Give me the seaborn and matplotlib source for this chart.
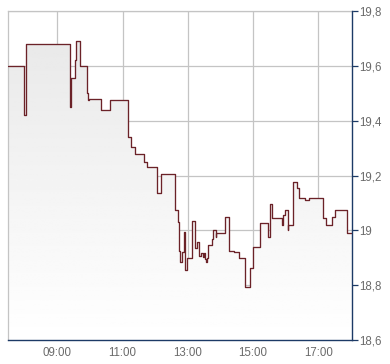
import matplotlib
matplotlib.use("Agg")
import matplotlib.pyplot as plt
import seaborn as sns
import numpy as np
import pandas as pd

times = ["07:29", "07:58", "08:03", "09:24", "09:25", "09:33", "09:35", "09:41", "09:54", "09:55",
         "09:56", "09:58", "10:21", "10:36", "11:09", "11:16", "11:22", "11:40", "11:44", "12:03",
         "12:10", "12:37", "12:41", "12:43", "12:46", "12:50", "12:52", "12:54", "12:59", "13:08",
         "13:14", "13:17", "13:21", "13:25", "13:27", "13:30", "13:31", "13:33", "13:35", "13:37",
         "13:44", "13:47", "13:51", "13:52", "14:08", "14:16", "14:25", "14:34", "14:45", "14:46",
         "14:54", "15:00", "15:12", "15:27", "15:31", "15:34", "15:53", "15:55", "15:58", "16:04",
         "16:05", "16:13", "16:21", "16:25", "16:35", "16:43", "17:08", "17:15", "17:25", "17:30",
         "17:53"]
prices = [19.60, 19.42, 19.68, 19.45, 19.555, 19.62, 19.69, 19.60, 19.53, 19.50,
          19.475, 19.48, 19.44, 19.475, 19.34, 19.305, 19.277, 19.248, 19.23, 19.135,
          19.205, 19.075, 19.03, 18.925, 18.886, 18.922, 18.995, 18.855, 18.898, 19.033,
          18.936, 18.959, 18.906, 18.916, 18.904, 18.916, 18.897, 18.886, 18.898, 18.946,
          18.967, 19.00, 18.975, 18.99, 19.048, 18.925, 18.92, 18.90, 18.837, 18.792,
          18.864, 18.939, 19.028, 18.976, 19.095, 19.044, 19.02, 19.056, 19.074, 19.00,
          19.02, 19.177, 19.153, 19.117, 19.111, 19.117, 19.044, 19.02, 19.05, 19.074,
          18.992]
end_time = "18:02"
x_ticks = ["09:00", "11:00", "13:00", "15:00", "17:00"]
y_ticks = [18.6, 18.8, 19.0, 19.2, 19.4, 19.6, 19.8]

def to_h(s):
    h, m = s.split(":")
    return int(h) + int(m) / 60.0

df = pd.DataFrame({"t": [to_h(t) for t in times] + [to_h(end_time)],
                   "p": prices + [prices[-1]]})

sns.set_style("white")
plt.rcParams['font.family'] = ['Liberation Sans', 'DejaVu Sans']

fig = plt.figure(figsize=(3.9, 3.64), dpi=100)
ax = fig.add_axes([8/390, 24/364, 344/390, 329/364])

xmin, xmax = to_h(times[0]), to_h(end_time)
ymin, ymax = 18.6, 19.8

# gradient fill under the line (grey at top, white at bottom)
poly = ax.fill_between(df["t"], df["p"], ymin, step="post", color="none", lw=0)
grad = np.linspace(1.0, 0.905, 256).reshape(-1, 1)
img = ax.imshow(grad, cmap="gray", vmin=0, vmax=1, aspect="auto",
                extent=[xmin, xmax, ymin, ymax], origin="lower", zorder=1)
path = poly.get_paths()[0]
img.set_clip_path(path, transform=ax.transData)

sns.lineplot(data=df, x="t", y="p", ax=ax, drawstyle="steps-post", color="#6b2228",
             linewidth=0.95, zorder=3, sort=False, estimator=None)

ax.set_xlim(xmin, xmax)
ax.set_ylim(ymin, ymax)
ax.set_xticks([to_h(t) for t in x_ticks])
ax.set_xticklabels(x_ticks)
ax.set_yticks(y_ticks)
def fmt(v):
    s = f"{v:.1f}"
    if s.endswith(".0"):
        s = s[:-2]
    return s.replace(".", ",")
ax.set_yticklabels([fmt(v) for v in y_ticks])
ax.yaxis.tick_right()
ax.grid(True, color="#c4c4c4", linewidth=0.9, zorder=0)
ax.set_axisbelow(True)
ax.set_xlabel("")
ax.set_ylabel("")

for s in ["left", "top"]:
    ax.spines[s].set_color("#c4c4c4")
    ax.spines[s].set_linewidth(0.9)
for s in ["right", "bottom"]:
    ax.spines[s].set_color("#1c3a66")
    ax.spines[s].set_linewidth(1.0)
    ax.spines[s].set_zorder(5)

ax.tick_params(axis="y", direction="out", length=4, width=0.9, color="#1c3a66",
               labelsize=8.3, labelcolor="#6a6a6a", pad=1)
ax.tick_params(axis="x", direction="out", length=3, width=0.9, color="#b0b0b0",
               labelsize=8.3, labelcolor="#6a6a6a", pad=2)

fig.savefig("out.png", dpi=100)
